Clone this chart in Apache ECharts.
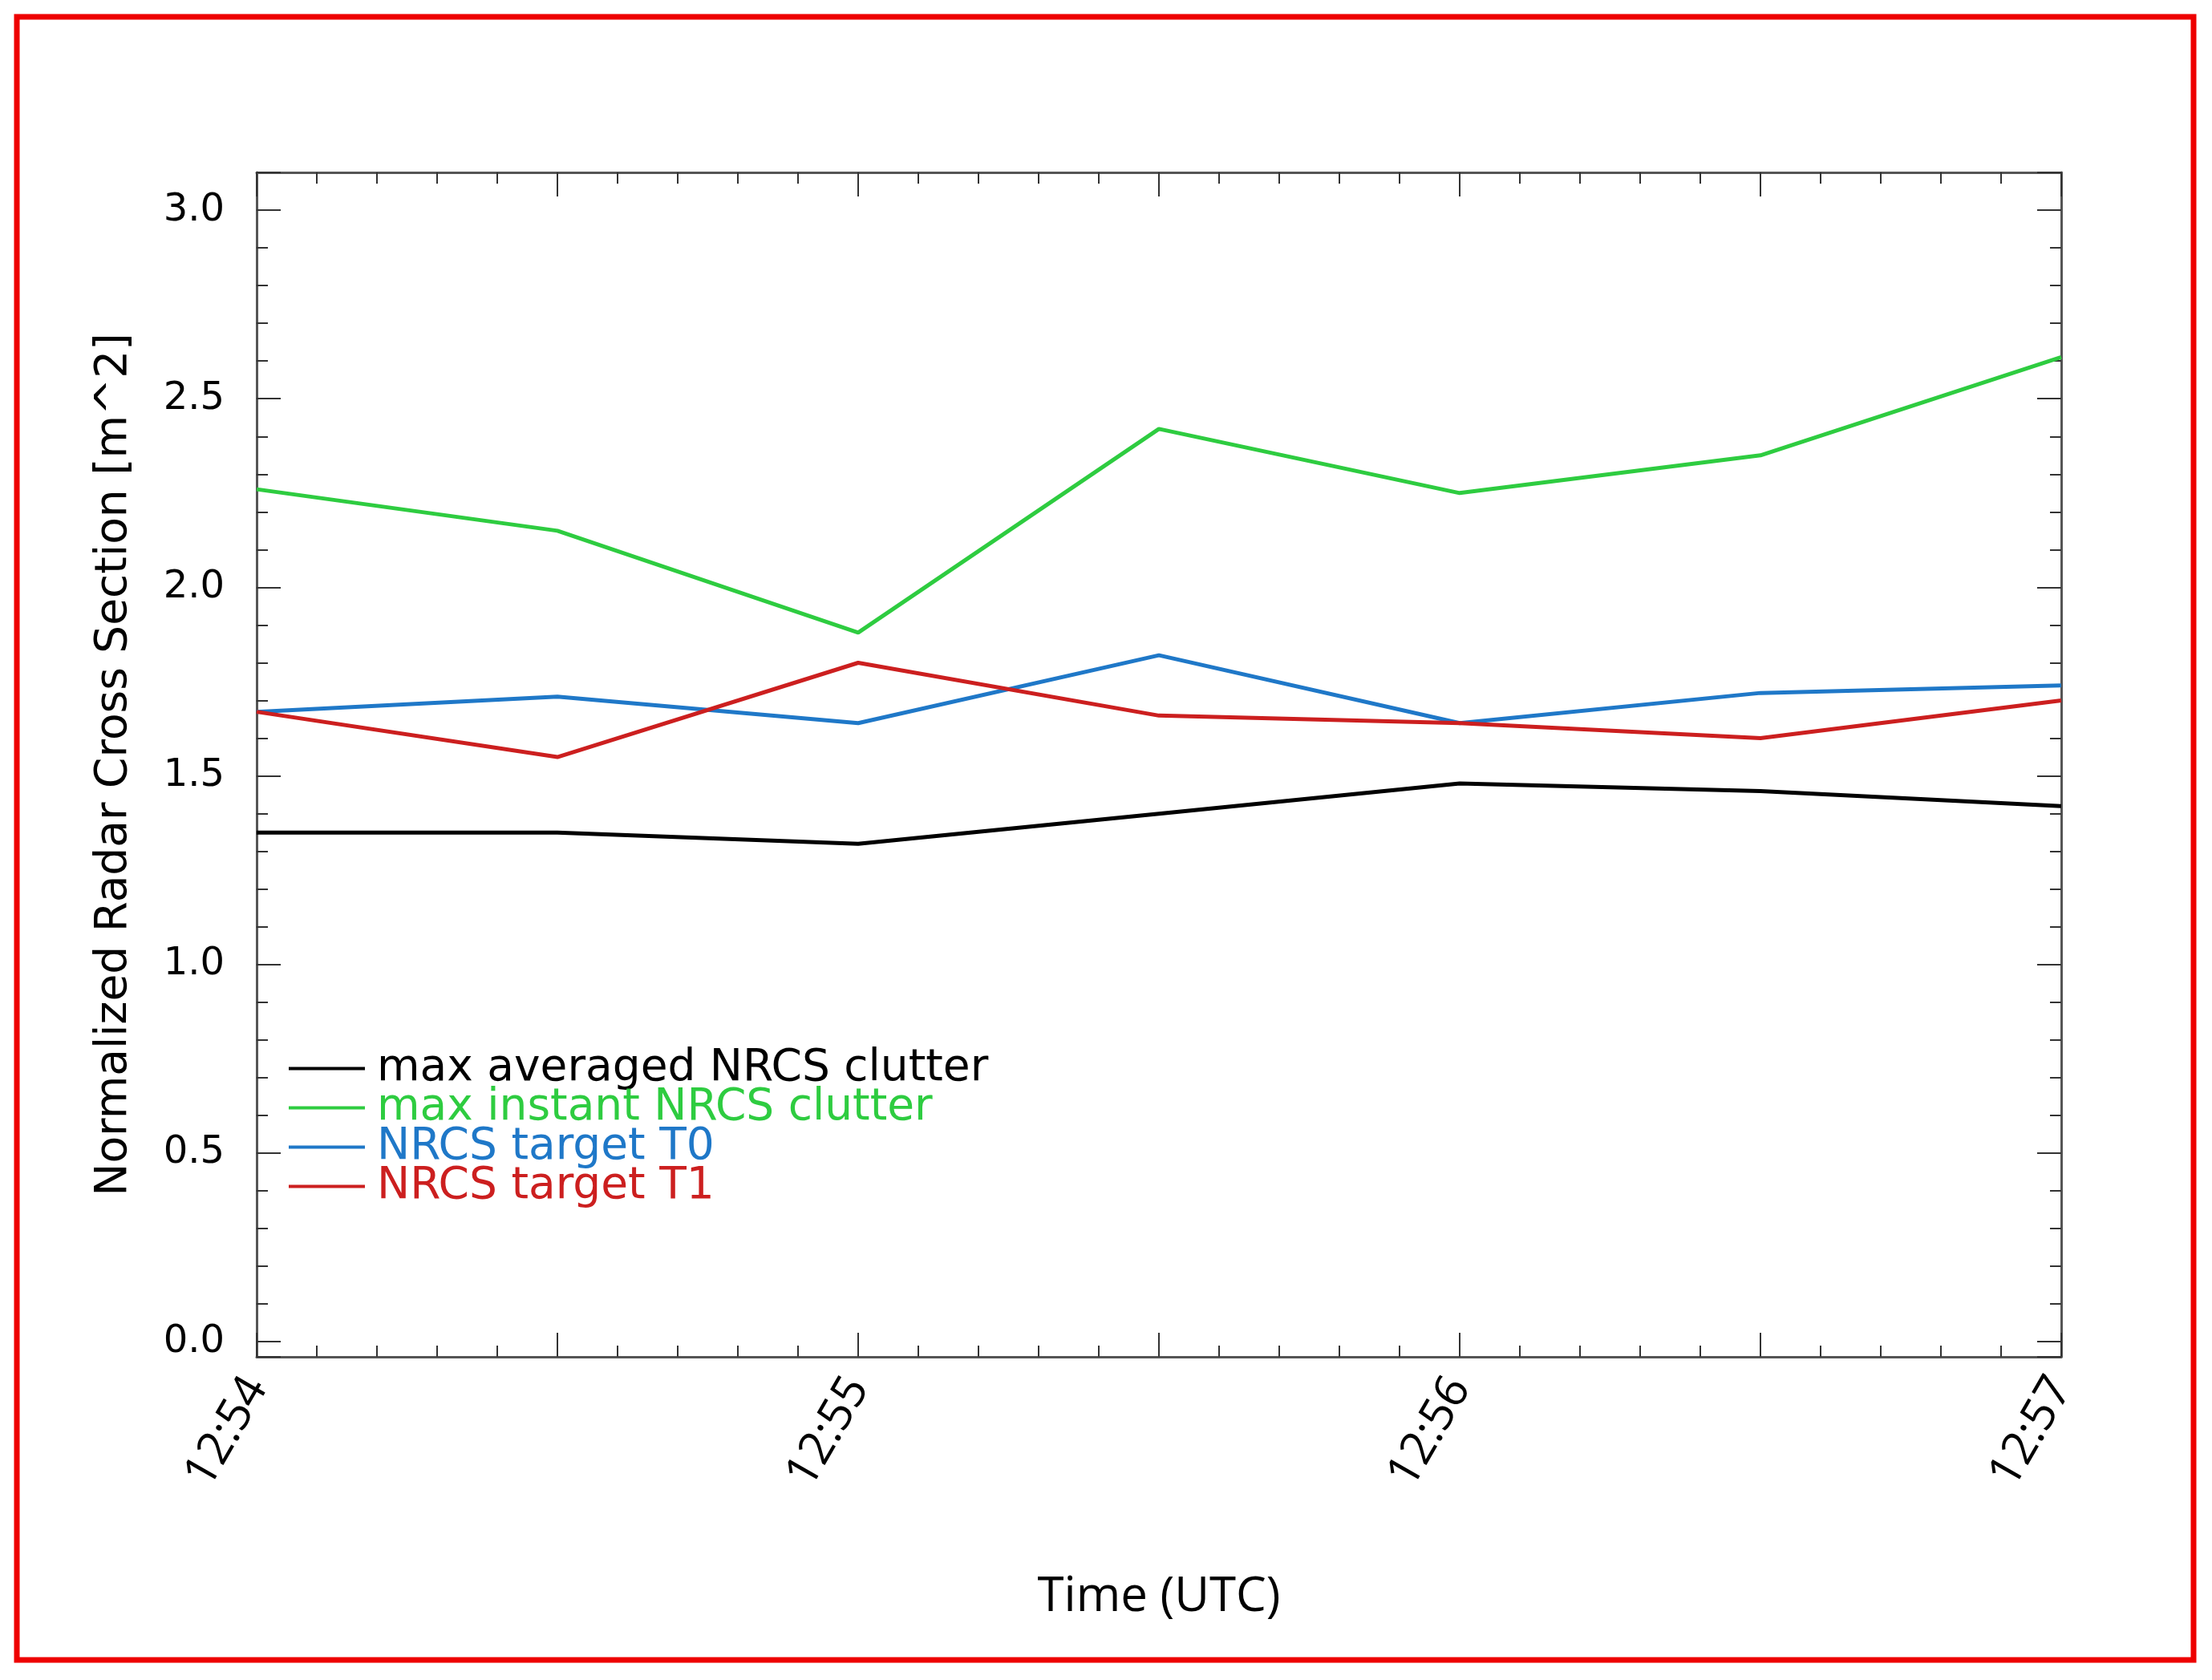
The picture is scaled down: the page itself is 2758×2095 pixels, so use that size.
<!DOCTYPE html>
<html><head><meta charset="utf-8">
<script src="https://cdn.jsdelivr.net/npm/echarts@6/dist/echarts.min.js"></script>
<style>html,body{margin:0;background:#fff}#c{width:2758px;height:2095px}</style>
</head><body><div id="c"></div>
<script>
// minutes after 12:54
const tiempos = [0, 0.5, 1, 1.5, 2, 2.5, 3];
const tickLabels = ['12:54', '12:55', '12:56', '12:57'];
const maxPromedio = [1.35, 1.35, 1.32, 1.40, 1.48, 1.46, 1.42];
const maxInstant = [2.26, 2.15, 1.88, 2.42, 2.25, 2.35, 2.61];
const targetT0 = [1.67, 1.71, 1.64, 1.82, 1.64, 1.72, 1.74];
const targetT1 = [1.67, 1.55, 1.80, 1.66, 1.64, 1.60, 1.70];

const nombres = ['max averaged NRCS clutter', 'max instant NRCS clutter', 'NRCS target T0', 'NRCS target T1'];
const colores = ['#000000', '#2ecc40', '#1f78c8', '#cc1f1f'];
const valores = [maxPromedio, maxInstant, targetT0, targetT1];

const chart = echarts.init(document.getElementById('c'));
const linea = { show: true, onZero: false, lineStyle: { color: '#555', width: 3 } };
const ticksComunes = { show: true, inside: true, length: 30, lineStyle: { color: '#333', width: 2 } };
const menores = { show: true, splitNumber: 5, length: 14, lineStyle: { color: '#333', width: 2 } };

chart.setOption({
    animation: false,
    grid: { left: 320, right: 188, top: 215, bottom: 403 },
    legend: {
        orient: 'vertical', left: 355, top: 1300, itemGap: -6, itemWidth: 95, itemHeight: 4,
        icon: 'rect',
        data: nombres.map((n, i) => ({ name: n, textStyle: { color: colores[i] } })),
        textStyle: { fontSize: 55, fontFamily: 'DejaVu Sans', padding: [0, 0, 0, 10] }
    },
    xAxis: [{
        type: 'value', min: 0, max: 3, interval: 0.5,
        name: 'Time (UTC)', nameLocation: 'middle', nameGap: 270,
        nameTextStyle: { fontSize: 60, color: '#000', fontFamily: 'Open Sans' },
        axisLine: linea,
        axisTick: ticksComunes, minorTick: menores, splitLine: { show: false },
        axisLabel: {
            rotate: 60, fontSize: 58, color: '#000', margin: 30, fontFamily: 'Open Sans',
            formatter: v => Number.isInteger(v) ? tickLabels[v] : ''
        }
    }, {
        type: 'value', min: 0, max: 3, interval: 0.5, position: 'top',
        axisLine: linea,
        axisTick: ticksComunes, minorTick: menores, splitLine: { show: false }, axisLabel: { show: false }
    }],
    yAxis: [{
        type: 'value', min: -0.04, max: 3.1,
        name: 'Normalized Radar Cross Section [m^2]', nameLocation: 'middle', nameGap: 150,
        nameTextStyle: { fontSize: 55, color: '#000', fontFamily: 'DejaVu Sans' },
        axisLine: linea,
        axisTick: ticksComunes, minorTick: menores, splitLine: { show: false },
        axisLabel: {
            fontSize: 48, color: '#000', margin: 40, fontFamily: 'DejaVu Sans',
            customValues: [0, 0.5, 1, 1.5, 2, 2.5, 3], formatter: v => v.toFixed(1)
        }
    }, {
        type: 'value', min: -0.04, max: 3.1, position: 'right',
        axisLine: linea,
        axisTick: ticksComunes, minorTick: menores, splitLine: { show: false }, axisLabel: { show: false }
    }],
    series: valores.map((v, i) => ({
        name: nombres[i], type: 'line', symbol: 'none',
        data: tiempos.map((t, k) => [t, v[k]]),
        lineStyle: { color: colores[i], width: 5 }, itemStyle: { color: colores[i] }
    })),
    graphic: [{
        type: 'rect', shape: { x: 21, y: 21, width: 2714, height: 2049 },
        style: { fill: 'none', stroke: '#ee0000', lineWidth: 7 }
    }]
});
</script></body></html>
